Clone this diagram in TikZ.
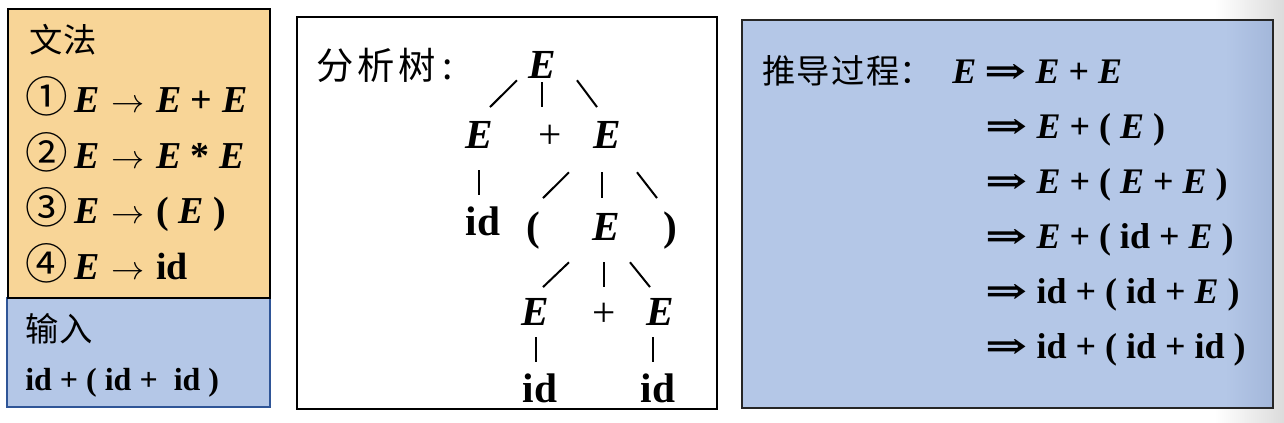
\documentclass[tikz,border=0pt]{standalone}
\usepackage{fontspec}
\usepackage{graphicx}
\setmainfont{Liberation Serif}
\newfontfamily\cjk{Noto Sans CJK SC}
\newfontfamily\symfont{DejaVu Serif}

\definecolor{gramfill}{HTML}{F8D597}
\definecolor{inputfill}{HTML}{B4C7E7}
\definecolor{inputline}{HTML}{2F5597}
\definecolor{derivshade}{HTML}{A3B7DA}

\newcommand{\nt}{\textbf{\textit{E}}}
\newcommand{\yields}{{\symfont\bfseries\scalebox{1.4}[1]{⇒}}}
\newcommand{\prodarrow}{\hspace{1.5pt}$\rightarrow$\hspace{1.5pt}}
\newcommand{\circnum}[1]{{\cjk\mdseries\scalebox{1.12}{#1}}\hspace{5pt}}

\tikzset{
	treenode/.style={anchor=base, inner sep=0pt, text height=21.5pt, text depth=0pt,
		font=\fontsize{31pt}{31pt}\selectfont\bfseries},
	edge/.style={line width=1.5pt},
	cjklabel/.style={anchor=base west, inner sep=0pt, font=\fontsize{25pt}{25pt}\selectfont\cjk},
	rulerow/.style={anchor=base west, inner sep=0pt, font=\fontsize{28.5pt}{30pt}\selectfont\bfseries},
	derivrow/.style={anchor=base west, inner sep=0pt, font=\fontsize{27pt}{28pt}\selectfont\bfseries},
	inputrow/.style={anchor=base west, inner sep=0pt, font=\fontsize{24pt}{25pt}\selectfont\bfseries}
}

\begin{document}
\begin{tikzpicture}[x=0.75pt, y=-0.75pt]
	\useasboundingbox (0,0) rectangle (1284,422);
	\fill[white] (0,0) rectangle (1284,422);
	\shade[left color=white, right color=black!14] (1215,0) rectangle (1284,422);
	
	% grammar and input
	\draw[fill=inputfill, draw=inputline, line width=1.5pt] (7,298) rectangle (270,407);
	\draw[fill=gramfill, line width=1.7pt] (8,9) rectangle (270,298);
	
	\node[cjklabel] (gram) at (29,52) {文\hspace{1pt}法};
	\node[rulerow] (r1) at (25,112) {\circnum{①}\nt{} \prodarrow{} \nt{} + \nt};
	\node[rulerow] (r2) at (25,168) {\circnum{②}\nt{} \prodarrow{} \nt{} * \nt};
	\node[rulerow] (r3) at (25,223) {\circnum{③}\nt{} \prodarrow{} ( \nt{} )};
	\node[rulerow] (r4) at (25,279) {\circnum{④}\nt{} \prodarrow{} id};
	
	\node[cjklabel] (inlabel) at (25,341) {输\hspace{1pt}入};
	\node[inputrow] (inp) at (25,390) {id + ( id +\ \ id )};
	
	% parse tree
	\draw[fill=white, line width=2.2pt] (297,17) rectangle (717,409);
	\node[cjklabel, font=\fontsize{28pt}{28pt}\selectfont\cjk] (tlabel) at (316,79)
		{分\hspace{3pt}析\hspace{3pt}树\hspace{5pt}:};
	
	\node[treenode] (root) at (542,78) {\textit{E}};
	\node[treenode] (e1) at (479,148) {\textit{E}};
	\node[treenode] (p1) at (550,148) {\mdseries +};
	\node[treenode] (e2) at (607,148) {\textit{E}};
	\node[treenode] (id1) at (483,235) {id};
	\node[treenode] (lp) at (533,240) {(};
	\node[treenode] (e3) at (606,240) {\textit{E}};
	\node[treenode] (rp) at (670,240) {)};
	\node[treenode] (e4) at (535,325) {\textit{E}};
	\node[treenode] (p2) at (604,326) {\mdseries +};
	\node[treenode] (e5) at (660,325) {\textit{E}};
	\node[treenode] (id2) at (540,402) {id};
	\node[treenode] (id3) at (658,402) {id};
	
	\draw[edge] ([shift={(-25,2)}]root.south) -- ([shift={(11,-12)}]e1.north);
	\draw[edge] ([shift={(0,4)}]root.south) -- ([shift={(-8,-12)}]p1.north);
	\draw[edge] ([shift={(35,2)}]root.south) -- ([shift={(-10,-12)}]e2.north);
	\draw[edge] ([shift={(0,22)}]e1.south) -- ([shift={(-4,-11)}]id1.north);
	\draw[edge] ([shift={(-38,24)}]e2.south) -- ([shift={(10,-13)}]lp.north);
	\draw[edge] ([shift={(-5,24)}]e2.south) -- ([shift={(-4,-13)}]e3.north);
	\draw[edge] ([shift={(30,24)}]e2.south) -- ([shift={(-13,-13)}]rp.north);
	\draw[edge] ([shift={(-37,22)}]e3.south) -- ([shift={(8,-9)}]e4.north);
	\draw[edge] ([shift={(-2,22)}]e3.south) -- ([shift={(0,-10)}]p2.north);
	\draw[edge] ([shift={(24,22)}]e3.south) -- ([shift={(-10,-9)}]e5.north);
	\draw[edge] ([shift={(1,12)}]e4.south) -- ([shift={(-4,-11)}]id2.north);
	\draw[edge] ([shift={(-7,12)}]e5.south) -- ([shift={(-5,-11)}]id3.north);
	
	% derivation
	\fill[inputfill] (742,20) rectangle (1273,408);
	\shade[left color=inputfill, right color=derivshade] (1225,20) rectangle (1273,408);
	\draw[black!85, line width=1.7pt] (742,20) rectangle (1273,408);
	
	\node[cjklabel] (dlabel) at (762,83) {推\hspace{1pt}导\hspace{1pt}过\hspace{1pt}程：};
	\node[derivrow] (d1) at (952,83) {\nt{}\hspace{6pt}\yields{} \nt{} + \nt};
	\node[derivrow] (d2) at (985,138) {\yields{} \nt{} + ( \nt{} )};
	\node[derivrow] (d3) at (985,193) {\yields{} \nt{} + ( \nt{} + \nt{} )};
	\node[derivrow] (d4) at (985,248) {\yields{} \nt{} + ( id + \nt{} )};
	\node[derivrow] (d5) at (985,303) {\yields{} id + ( id + \nt{} )};
	\node[derivrow] (d6) at (985,358) {\yields{} id + ( id + id )};
\end{tikzpicture}
\end{document}
